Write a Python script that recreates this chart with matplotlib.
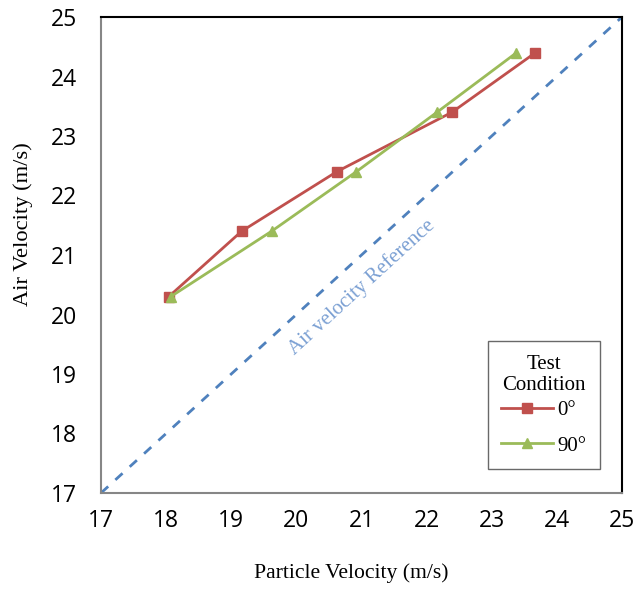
import matplotlib
matplotlib.use("Agg")
import matplotlib.pyplot as plt

# Data
air_velocity = [20.3, 21.4, 22.4, 23.4, 24.4]
particle_0 = [18.04, 19.16, 20.62, 22.39, 23.67]
particle_90 = [18.07, 19.62, 20.92, 22.16, 23.38]
ref_line = [17, 25]
ticks = [17, 18, 19, 20, 21, 22, 23, 24, 25]

RED = "#C0504D"
GREEN = "#9BBB59"
BLUE = "#4F81BD"
SERIF = "Liberation Serif"
SANS = "Open Sans"

fig = plt.figure(figsize=(6.37, 5.9), dpi=100)
ax = fig.add_axes([101/637, 1-493/590, 521/637, 476/590])

ax.plot(ref_line, ref_line, color=BLUE, lw=2, ls=(0, (3.5, 3.5)), zorder=1)
ax.plot(particle_0, air_velocity, color=RED, lw=2, marker="s", ms=7, label="0°", zorder=3)
ax.plot(particle_90, air_velocity, color=GREEN, lw=2, marker="^", ms=7, label="90°", zorder=3)

ax.text(21.0, 20.45, "Air velocity Reference", rotation=42.4, rotation_mode="anchor",
        ha="center", va="center", color="#7BA0D3", fontsize=15, family=SERIF)

ax.set_xlim(17, 25)
ax.set_ylim(17, 25)
ax.set_xticks(ticks)
ax.set_yticks(ticks)
ax.tick_params(length=0, labelsize=16.5)
ax.tick_params(axis="x", pad=11.5)
ax.tick_params(axis="y", pad=17)
for lab in ax.get_xticklabels() + ax.get_yticklabels():
    lab.set_family(SANS)

for side in ["top", "right"]:
    ax.spines[side].set_color("black")
    ax.spines[side].set_linewidth(1.5)
for side in ["left", "bottom"]:
    ax.spines[side].set_color("#868686")
    ax.spines[side].set_linewidth(1.5)

ax.text(0.48, -0.168, "Particle Velocity (m/s)", transform=ax.transAxes,
        ha="center", va="center", family=SERIF, fontsize=15.6)
ax.text(-0.15, 0.565, "Air Velocity (m/s)", transform=ax.transAxes, rotation=90,
        ha="center", va="center", family=SERIF, fontsize=16.2)

leg = ax.legend(title="Test\nCondition", loc="lower right", bbox_to_anchor=(0.958, 0.05),
                prop={"family": SERIF, "size": 15}, title_fontproperties={"family": SERIF, "size": 15},
                frameon=True, fancybox=False, edgecolor="#444444", handlelength=2.5,
                borderpad=0.65, labelspacing=0.75, handletextpad=0.2, borderaxespad=0)
leg.get_title().set_multialignment("center")
leg._legend_box.sep = 4
leg.get_frame().set_linewidth(1.0)

fig.savefig("out.png", dpi=100)
